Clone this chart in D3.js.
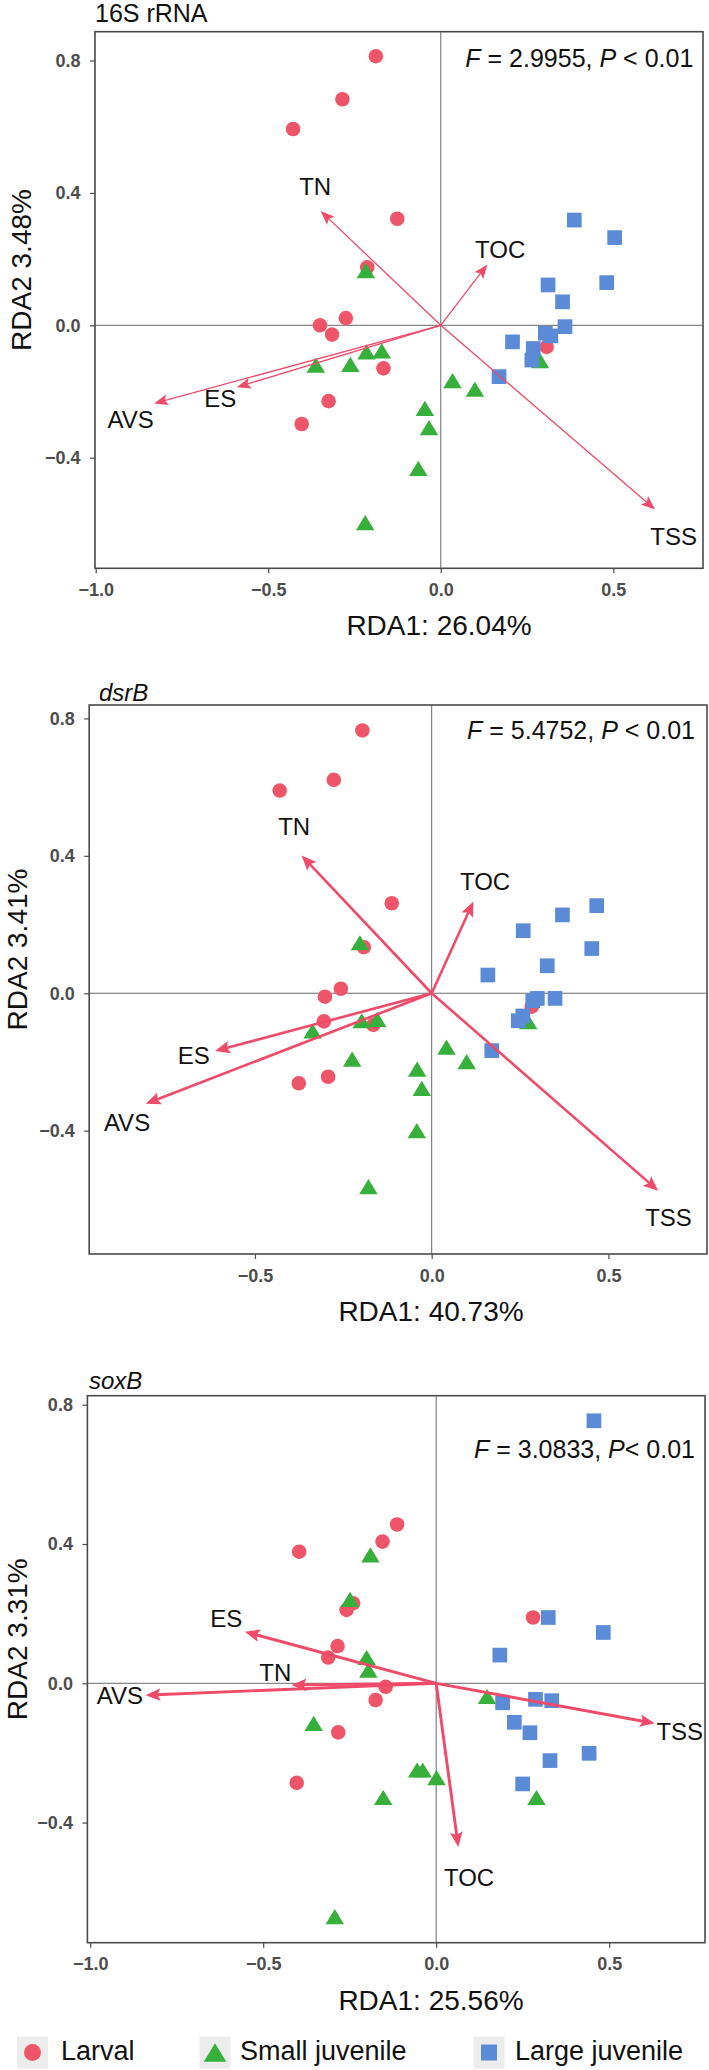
<!DOCTYPE html>
<html><head><meta charset="utf-8">
<script src="https://cdn.jsdelivr.net/npm/d3@7"></script>
<style>
body{margin:0;background:#fff}
svg{display:block}
text{font-family:"Liberation Sans",Arial,Helvetica,sans-serif}
</style>
</head><body><div id="chart"></div>
<script>
// ---------------- data ----------------
const groups = ["Larval", "Small juvenile", "Large juvenile"];
const envVars = ["TN", "TOC", "TSS", "ES", "AVS"];
const panelTitles = ["16S rRNA", "dsrB", "soxB"];
const statF = ["2.9955", "5.4752", "3.0833"];
const xAxisLabels = ["RDA1: 26.04%", "RDA1: 40.73%", "RDA1: 25.56%"];
const yAxisLabels = ["RDA2 3.48%", "RDA2 3.41%", "RDA2 3.31%"];
const xTicksFull = [-1.0, -0.5, 0.0, 0.5];
const xTicksShort = [-0.5, 0.0, 0.5];
const yTickValues = [0.8, 0.4, 0.0, -0.4];

// 16S rRNA
const larval16S = [[-0.188,0.813],[-0.285,0.683],[-0.428,0.593],[-0.126,0.322],[-0.213,0.175],[-0.275,0.022],[-0.350,0.000],[-0.315,-0.028],[-0.166,-0.130],[-0.325,-0.229],[-0.403,-0.298],[0.307,-0.065]];
const small16S = [[-0.217,0.165],[-0.362,-0.120],[-0.262,-0.118],[-0.215,-0.080],[-0.171,-0.077],[0.034,-0.167],[0.099,-0.193],[-0.046,-0.251],[-0.034,-0.309],[-0.065,-0.432],[-0.219,-0.596],[0.288,-0.107]];
const large16S = [[0.387,0.318],[0.504,0.265],[0.481,0.129],[0.311,0.122],[0.353,0.071],[0.360,-0.004],[0.303,-0.024],[0.319,-0.032],[0.208,-0.050],[0.268,-0.070],[0.264,-0.105],[0.169,-0.155]];
const tips16S = [[-0.348,0.345],[0.135,0.184],[0.621,-0.556],[-0.591,-0.187],[-0.831,-0.236]];
const labels16S = [[-0.364,0.421],[0.172,0.230],[0.675,-0.639],[-0.639,-0.221],[-0.899,-0.283]];

// dsrB
const larvalDsrB = [[-0.196,0.765],[-0.277,0.621],[-0.430,0.590],[-0.113,0.262],[-0.192,0.134],[-0.257,0.013],[-0.302,-0.010],[-0.305,-0.082],[-0.165,-0.092],[-0.293,-0.243],[-0.376,-0.262],[0.283,-0.039]];
const smallDsrB = [[-0.203,0.147],[-0.337,-0.110],[-0.198,-0.080],[-0.154,-0.076],[-0.225,-0.192],[-0.041,-0.221],[-0.028,-0.277],[-0.042,-0.400],[-0.179,-0.563],[0.042,-0.157],[0.099,-0.199],[0.273,-0.083]];
const largeDsrB = [[0.467,0.255],[0.370,0.228],[0.259,0.182],[0.453,0.130],[0.327,0.080],[0.159,0.053],[0.349,-0.015],[0.299,-0.015],[0.286,-0.022],[0.258,-0.066],[0.245,-0.080],[0.170,-0.167]];
const tipsDsrB = [[-0.368,0.401],[0.118,0.267],[0.641,-0.575],[-0.613,-0.168],[-0.809,-0.322]];
const labelsDsrB = [[-0.389,0.487],[0.151,0.325],[0.670,-0.652],[-0.673,-0.181],[-0.862,-0.377]];

// soxB
const larvalSoxB = [[-0.396,0.378],[-0.155,0.407],[-0.113,0.456],[-0.240,0.230],[-0.259,0.211],[-0.285,0.107],[-0.312,0.074],[0.280,0.189],[-0.146,-0.010],[-0.175,-0.048],[-0.283,-0.141],[-0.403,-0.286]];
const smallSoxB = [[-0.190,0.369],[-0.249,0.241],[-0.201,0.074],[-0.196,0.038],[-0.354,-0.115],[-0.055,-0.249],[-0.039,-0.249],[0.001,-0.271],[-0.153,-0.328],[0.290,-0.328],[0.147,-0.038],[-0.293,-0.670]];
const largeSoxB = [[0.456,0.754],[0.324,0.189],[0.483,0.146],[0.184,0.081],[0.192,-0.056],[0.287,-0.046],[0.334,-0.050],[0.226,-0.112],[0.271,-0.142],[0.329,-0.222],[0.442,-0.201],[0.250,-0.289]];
const tipsSoxB = [[-0.418,-0.005],[0.064,-0.470],[0.632,-0.115],[-0.553,0.148],[-0.840,-0.034]];
const labelsSoxB = [[-0.465,0.030],[0.095,-0.557],[0.704,-0.137],[-0.607,0.186],[-0.914,-0.034]];

// ---------------- styles / layout ----------------
const groupColors = ["#EF5568", "#36B03A", "#5B8BD6"];
const arrowColor = "#F04A69";

const triBox = {
  draw(ctx, size) {
    const w = Math.sqrt(size), h = w * 0.82;
    ctx.moveTo(0, -h / 2); ctx.lineTo(w / 2, h / 2); ctx.lineTo(-w / 2, h / 2); ctx.closePath();
  }
};
const symTypes = [d3.symbolCircle, triBox, d3.symbolSquare];
const symSizes = [167, 342, 216];
const legendSizes = [227, 510, 256];

const layouts = [
  {l:95, r:703, t:31.7, b:568.3, xDom:[-1.002,0.760], yDom:[-0.734,0.887], xTicks:xTicksFull,
   titleX:95, titleY:21.7, italic:false, statX:693.3, statY:66.7, pSep:" ",
   xLabX:439, yLabX:31, lw:1.3, headLen:14, headHalf:5.5,
   pts:[larval16S, small16S, large16S], tips:tips16S, labs:labels16S},
  {l:89.2, r:707, t:705, b:1254, xDom:[-0.969,0.779], yDom:[-0.759,0.839], xTicks:xTicksShort,
   titleX:99, titleY:700.7, italic:true, statX:695, statY:739.3, pSep:" ",
   xLabX:431, yLabX:26.5, lw:2.6, headLen:15, headHalf:6.3,
   pts:[larvalDsrB, smallDsrB, largeDsrB], tips:tipsDsrB, labs:labelsDsrB},
  {l:87.4, r:705, t:1395.7, b:1942.7, xDom:[-1.008,0.777], yDom:[-0.745,0.826], xTicks:xTicksFull,
   titleX:89, titleY:1389.3, italic:true, statX:695, statY:1457.7, pSep:"",
   xLabX:431, yLabX:26.5, lw:2.9, headLen:15, headHalf:6.3,
   pts:[larvalSoxB, smallSoxB, largeSoxB], tips:tipsSoxB, labs:labelsSoxB}
];

const W = 709, H = 2070;
const svg = d3.select("#chart").append("svg")
  .attr("width", W).attr("height", H)
  .attr("viewBox", `0 0 ${W} ${H}`);
svg.append("rect").attr("width", W).attr("height", H).attr("fill", "#fff");

const fmt = d3.format(".1f");

layouts.forEach((L, pi) => {
  const x = d3.scaleLinear().domain(L.xDom).range([L.l, L.r]);
  const y = d3.scaleLinear().domain(L.yDom).range([L.b, L.t]);
  const g = svg.append("g");

  // title
  g.append("text").attr("x", L.titleX).attr("y", L.titleY)
    .attr("font-size", L.italic ? 24 : 25)
    .attr("font-style", L.italic ? "italic" : "normal")
    .attr("fill", "#111").text(panelTitles[pi]);

  // zero lines
  g.append("line").attr("x1", L.l).attr("x2", L.r).attr("y1", y(0)).attr("y2", y(0))
    .attr("stroke", "#6a6a6a").attr("stroke-width", 1);
  g.append("line").attr("x1", x(0)).attr("x2", x(0)).attr("y1", L.t).attr("y2", L.b)
    .attr("stroke", "#6a6a6a").attr("stroke-width", 1);

  // axes
  const xa = g.append("g").attr("transform", `translate(0,${L.b})`)
    .call(d3.axisBottom(x).tickValues(L.xTicks).tickSize(5).tickPadding(10).tickFormat(fmt));
  const ya = g.append("g").attr("transform", `translate(${L.l},0)`)
    .call(d3.axisLeft(y).tickValues(yTickValues).tickSize(5).tickPadding(9.5).tickFormat(fmt));
  [xa, ya].forEach(a => {
    a.select(".domain").remove();
    a.selectAll(".tick line").attr("stroke", "#4d4d4d").attr("stroke-width", 1.2);
    a.selectAll(".tick text").attr("font-size", 18).attr("font-weight", "bold")
      .attr("fill", "#4d4d4d").attr("font-family", "'Liberation Sans', Arial, sans-serif");
  });

  // frame
  g.append("rect").attr("x", L.l).attr("y", L.t).attr("width", L.r - L.l).attr("height", L.b - L.t)
    .attr("fill", "none").attr("stroke", "#4a4a4a").attr("stroke-width", 1.6);

  // points
  L.pts.forEach((arr, gi) => {
    g.append("g").selectAll("path").data(arr).join("path")
      .attr("transform", d => `translate(${x(d[0])},${y(d[1])})`)
      .attr("d", d3.symbol().type(symTypes[gi]).size(symSizes[gi]))
      .attr("fill", groupColors[gi]);
  });

  // arrows
  const ag = g.append("g");
  L.tips.forEach((d, i) => {
    const x0 = x(0), y0 = y(0), x1 = x(d[0]), y1 = y(d[1]);
    const dx = x1 - x0, dy = y1 - y0, len = Math.hypot(dx, dy);
    const ux = dx / len, uy = dy / len;
    const bx = x1 - ux * L.headLen, by = y1 - uy * L.headLen;
    ag.append("line").attr("x1", x0).attr("y1", y0)
      .attr("x2", x1 - ux * L.headLen * 0.7).attr("y2", y1 - uy * L.headLen * 0.7)
      .attr("stroke", arrowColor).attr("stroke-width", L.lw);
    const p = d3.path();
    p.moveTo(x1, y1);
    p.lineTo(bx - uy * L.headHalf, by + ux * L.headHalf);
    p.lineTo(bx + ux * 3 , by + uy * 3);
    p.lineTo(bx + uy * L.headHalf, by - ux * L.headHalf);
    p.closePath();
    ag.append("path").attr("d", p.toString()).attr("fill", arrowColor);
  });

  // arrow labels
  g.append("g").selectAll("text").data(L.labs).join("text")
    .attr("x", d => x(d[0])).attr("y", d => y(d[1])).attr("dy", "0.36em")
    .attr("text-anchor", "middle").attr("font-size", 24).attr("fill", "#111")
    .text((d, i) => envVars[i]);

  // statistic
  const st = g.append("text").attr("x", L.statX).attr("y", L.statY)
    .attr("text-anchor", "end").attr("font-size", 25).attr("fill", "#111");
  st.append("tspan").attr("font-style", "italic").text("F");
  st.append("tspan").text(` = ${statF[pi]}, `);
  st.append("tspan").attr("font-style", "italic").text("P");
  st.append("tspan").text(`${L.pSep}< 0.01`);

  // axis labels
  g.append("text").attr("x", L.xLabX).attr("y", L.b + 67)
    .attr("text-anchor", "middle").attr("font-size", 28).attr("fill", "#111")
    .text(xAxisLabels[pi]);
  g.append("text")
    .attr("transform", `translate(${L.yLabX},${(L.t + L.b) / 2 - 30}) rotate(-90)`)
    .attr("text-anchor", "middle").attr("font-size", 28).attr("fill", "#111")
    .text(yAxisLabels[pi]);
});

// legend
const legendX = [32.5, 215, 489];
const legendTextX = [61, 240, 515];
const legendY = 2052.5;
const lg = svg.append("g");
groups.forEach((name, gi) => {
  lg.append("rect").attr("x", legendX[gi] - 15.5).attr("y", legendY - 16)
    .attr("width", 31).attr("height", 32).attr("fill", "#ececec");
  lg.append("path").attr("transform", `translate(${legendX[gi]},${legendY})`)
    .attr("d", d3.symbol().type(symTypes[gi]).size(legendSizes[gi]))
    .attr("fill", groupColors[gi]);
  lg.append("text").attr("x", legendTextX[gi]).attr("y", legendY + 7)
    .attr("font-size", 27).attr("fill", "#111").text(name);
});
</script>
</body></html>
